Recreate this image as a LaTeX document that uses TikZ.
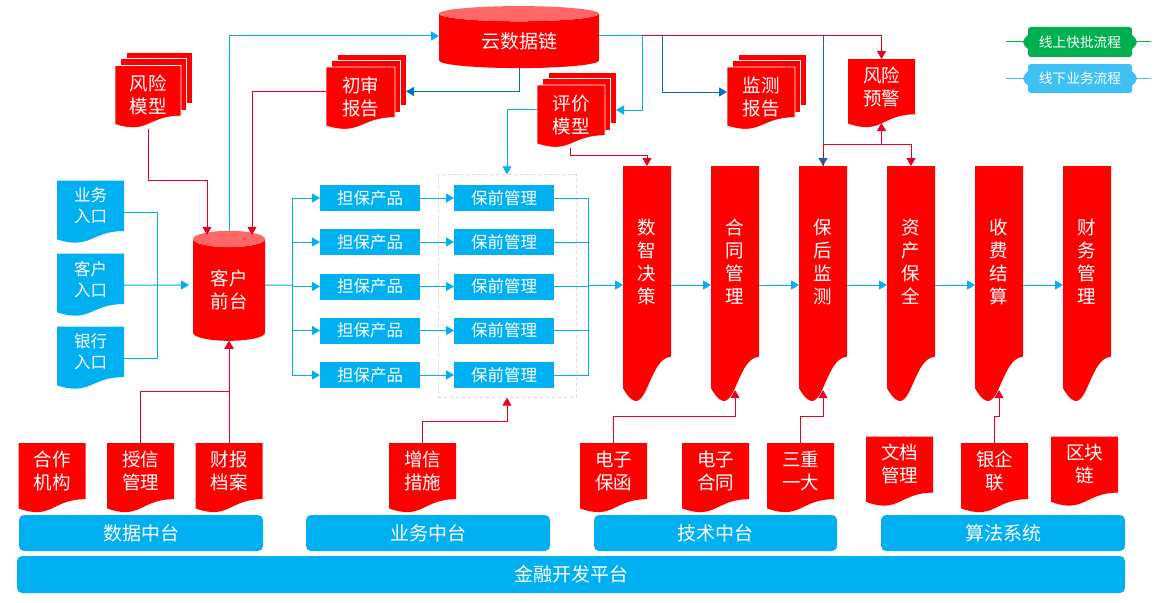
\documentclass[tikz,border=0pt]{standalone}
\usepackage{fontspec}
\setmainfont{Noto Sans CJK SC}
\usepackage{tikz}
\usetikzlibrary{arrows.meta,shapes.geometric}

\definecolor{docred}{HTML}{FF0000}
\definecolor{endred}{HTML}{FF6666}
\definecolor{linered}{HTML}{E60026}
\definecolor{skyblue}{HTML}{00B0F0}
\definecolor{deepblue}{HTML}{0070C0}
\definecolor{legendgreen}{HTML}{00B050}
\definecolor{legendblue}{HTML}{3FC1F5}

\newdimen\docl
\newdimen\docr
\newdimen\doct
\newdimen\docb
\newdimen\docm
\newdimen\doch

% sheet with a wavy lower edge
\pgfdeclareshape{docshape}{
    \inheritsavedanchors[from=rectangle]
    \inheritanchorborder[from=rectangle]
    \inheritanchor[from=rectangle]{center}
    \inheritanchor[from=rectangle]{text}
    \inheritanchor[from=rectangle]{north}
    \inheritanchor[from=rectangle]{south}
    \inheritanchor[from=rectangle]{east}
    \inheritanchor[from=rectangle]{west}
    \backgroundpath{
        \pgfextractx{\docl}{\southwest}\pgfextracty{\docb}{\southwest}
        \pgfextractx{\docr}{\northeast}\pgfextracty{\doct}{\northeast}
        \docm=.5\docl \advance\docm by .5\docr
        \doch=\doct \advance\doch by -\docb
        \pgfpathmoveto{\pgfqpoint{\docl}{\doct}}
        \pgfpathlineto{\pgfqpoint{\docr}{\doct}}
        \pgfpathlineto{\pgfpoint{\docr}{\doct-.802\doch}}
        \pgfpathcurveto{\pgfpoint{\docm}{\doct-.802\doch}}{\pgfpoint{\docm}{\doct-1.1075\doch}}{\pgfpoint{\docl}{\doct-.934\doch}}
        \pgfpathclose
    }
}

% the same sheet with two sheets behind it
\pgfdeclareshape{stackshape}{
    \inheritsavedanchors[from=rectangle]
    \inheritanchorborder[from=rectangle]
    \inheritanchor[from=rectangle]{center}
    \inheritanchor[from=rectangle]{text}
    \inheritanchor[from=rectangle]{north}
    \inheritanchor[from=rectangle]{south}
    \inheritanchor[from=rectangle]{east}
    \inheritanchor[from=rectangle]{west}
    \inheritbackgroundpath[from=docshape]
    \behindbackgroundpath{
        \pgfextractx{\docl}{\southwest}\pgfextracty{\docb}{\southwest}
        \pgfextractx{\docr}{\northeast}\pgfextracty{\doct}{\northeast}
        \pgfscope
        \pgfsetfillcolor{docred}
        \pgfsetstrokecolor{white}
        \pgfsetlinewidth{0.6pt}
        \pgfpathrectanglecorners{\pgfpoint{\docl+11pt}{\docb+25pt}}{\pgfpoint{\docr+11pt}{\doct+13pt}}
        \pgfusepath{fill,stroke}
        \pgfpathrectanglecorners{\pgfpoint{\docl+5.5pt}{\docb+18pt}}{\pgfpoint{\docr+5.5pt}{\doct+7pt}}
        \pgfusepath{fill,stroke}
        \endpgfscope
    }
}

% legend plate with small bulges on both sides
\pgfdeclareshape{tagshape}{
    \inheritsavedanchors[from=rectangle]
    \inheritanchorborder[from=rectangle]
    \inheritanchor[from=rectangle]{center}
    \inheritanchor[from=rectangle]{text}
    \inheritanchor[from=rectangle]{east}
    \inheritanchor[from=rectangle]{west}
    \backgroundpath{
        \pgfextractx{\docl}{\southwest}\pgfextracty{\docb}{\southwest}
        \pgfextractx{\docr}{\northeast}\pgfextracty{\doct}{\northeast}
        \docm=.5\docb \advance\docm by .5\doct
        \pgfpathmoveto{\pgfpoint{\docl+8pt}{\doct}}
        \pgfpathlineto{\pgfpoint{\docr-8pt}{\doct}}
        \pgfpathcurveto{\pgfpoint{\docr-6pt}{\doct}}{\pgfpoint{\docr-5pt}{\doct-1pt}}{\pgfpoint{\docr-5pt}{\doct-3pt}}
        \pgfpathlineto{\pgfpoint{\docr-5pt}{\docm+7pt}}
        \pgfpathcurveto{\pgfpoint{\docr-3pt}{\docm+5pt}}{\pgfpoint{\docr}{\docm+3pt}}{\pgfpoint{\docr}{\docm}}
        \pgfpathcurveto{\pgfpoint{\docr}{\docm-3pt}}{\pgfpoint{\docr-3pt}{\docm-5pt}}{\pgfpoint{\docr-5pt}{\docm-7pt}}
        \pgfpathlineto{\pgfpoint{\docr-5pt}{\docb+3pt}}
        \pgfpathcurveto{\pgfpoint{\docr-5pt}{\docb+1pt}}{\pgfpoint{\docr-6pt}{\docb}}{\pgfpoint{\docr-8pt}{\docb}}
        \pgfpathlineto{\pgfpoint{\docl+8pt}{\docb}}
        \pgfpathcurveto{\pgfpoint{\docl+6pt}{\docb}}{\pgfpoint{\docl+5pt}{\docb+1pt}}{\pgfpoint{\docl+5pt}{\docb+3pt}}
        \pgfpathlineto{\pgfpoint{\docl+5pt}{\docm-7pt}}
        \pgfpathcurveto{\pgfpoint{\docl+3pt}{\docm-5pt}}{\pgfpoint{\docl}{\docm-3pt}}{\pgfpoint{\docl}{\docm}}
        \pgfpathcurveto{\pgfpoint{\docl}{\docm+3pt}}{\pgfpoint{\docl+3pt}{\docm+5pt}}{\pgfpoint{\docl+5pt}{\docm+7pt}}
        \pgfpathlineto{\pgfpoint{\docl+5pt}{\doct-3pt}}
        \pgfpathcurveto{\pgfpoint{\docl+5pt}{\doct-1pt}}{\pgfpoint{\docl+6pt}{\doct}}{\pgfpoint{\docl+8pt}{\doct}}
        \pgfpathclose
    }
}

\newcommand{\bigtext}{\fontsize{18.5}{23}\selectfont}
\newcommand{\bartext}{\fontsize{19}{23}\selectfont}
\newcommand{\midtext}{\fontsize{16.5}{21}\selectfont}

\tikzset{
    base/.style={inner sep=0pt,outer sep=0pt,text=white,align=center},
    reddoc/.style={base,shape=docshape,fill=docred,font=\bigtext,minimum width=67pt,minimum height=70pt,text depth=16pt},
    bluedoc/.style={reddoc,fill=skyblue,font=\midtext,minimum height=63pt,text depth=13pt},
    tallblock/.style={reddoc,minimum width=48pt,minimum height=238pt,text depth=48pt},
    redstack/.style={base,shape=stackshape,fill=docred,draw=white,line width=0.6pt,font=\bigtext,minimum height=63pt,text depth=5pt},
    bluebox/.style={base,rectangle,fill=skyblue,font=\midtext,minimum width=100pt,minimum height=26pt},
    bluebar/.style={base,rectangle,fill=skyblue,rounded corners=5pt,font=\bartext,minimum height=36pt},
    redcyl/.style={base,shape=cylinder,shape border rotate=90,cylinder uses custom fill,cylinder body fill=docred,cylinder end fill=endred,font=\bigtext},
    legendtag/.style={base,shape=tagshape,font=\fontsize{13.7}{16}\selectfont,minimum width=114pt},
    blueline/.style={draw=skyblue,line width=1pt,-{Triangle[length=8pt,width=9pt]}},
    deepline/.style={draw=deepblue,line width=1pt,-{Triangle[length=8pt,width=9pt]}},
    redline/.style={draw=linered,line width=1pt,-{Triangle[length=8pt,width=9pt]}},
}

\begin{document}
\begin{tikzpicture}[x=1pt,y=-1pt]
    \useasboundingbox (0,0) rectangle (1155,602);

    % upper row
    \node[redcyl,aspect=0.2,minimum width=160pt,minimum height=62pt,font=\bartext] (chain) at (519,41) {云数据链};
    \node[redstack,minimum width=66pt] (risk) at (148,97) {风险\\模型};
    \node[redstack,minimum width=69pt] (audit) at (360.5,98.5) {初审\\报告};
    \node[redstack,minimum width=68pt] (eval) at (571,116.5) {评价\\模型};
    \node[redstack,minimum width=68pt] (monitor) at (761,98.5) {监测\\报告};
    \node[reddoc,minimum height=69pt,text depth=14pt] (warn) at (881.5,93.5) {风险\\预警};

    % legend
    \node[legendtag,fill=legendgreen,minimum height=30pt] (online) at (1080,42) {线上快批流程};
    \node[legendtag,fill=legendblue,minimum height=29pt] (offline) at (1080,78.5) {线下业务流程};
    \coordinate (online1) at (1006,42);
    \coordinate (online2) at (1151,42);
    \coordinate (offline1) at (1006,78.5);
    \coordinate (offline2) at (1151,78.5);

    % entries and front desk
    \node[bluedoc] (biz) at (90.5,212) {业务\\入口};
    \node[bluedoc] (cust) at (90.5,285) {客户\\入口};
    \node[bluedoc] (bank) at (90.5,358) {银行\\入口};
    \node[redcyl,aspect=0.44,minimum width=72pt,minimum height=110pt] (client) at (229,290) {客户\\前台};

    % products and pre-loan management
    \node[draw=black!15,dashed,minimum width=138pt,minimum height=223pt] (prebox) at (507,286) {};
    \node[bluebox] (p1) at (370,198) {担保产品};
    \node[bluebox] (p2) at (370,242) {担保产品};
    \node[bluebox] (p3) at (370,286.5) {担保产品};
    \node[bluebox] (p4) at (370,330.5) {担保产品};
    \node[bluebox] (p5) at (370,375) {担保产品};
    \node[bluebox] (m1) at (504,198) {保前管理};
    \node[bluebox] (m2) at (504,242) {保前管理};
    \node[bluebox] (m3) at (504,286.5) {保前管理};
    \node[bluebox] (m4) at (504,330.5) {保前管理};
    \node[bluebox] (m5) at (504,375) {保前管理};

    % tall blocks
    \node[tallblock] (b1) at (647,285) {数\\智\\决\\策};
    \node[tallblock] (b2) at (735,285) {合\\同\\管\\理};
    \node[tallblock] (b3) at (823,285) {保\\后\\监\\测};
    \node[tallblock] (b4) at (911,285) {资\\产\\保\\全};
    \node[tallblock] (b5) at (999,285) {收\\费\\结\\算};
    \node[tallblock] (b6) at (1087,285) {财\\务\\管\\理};

    % lower row
    \node[reddoc] (partner) at (52,478) {合作\\机构};
    \node[reddoc] (credit) at (140.5,478) {授信\\管理};
    \node[reddoc] (archive) at (229,478) {财报\\档案};
    \node[reddoc] (enhance) at (422.5,478) {增信\\措施};
    \node[reddoc] (ebond) at (613.5,478) {电子\\保函};
    \node[reddoc] (econtract) at (715.5,478) {电子\\合同};
    \node[reddoc] (triple) at (800.5,478) {三重\\一大};
    \node[reddoc] (files) at (899.5,471.5) {文档\\管理};
    \node[reddoc] (bankco) at (994.5,478) {银企\\联};
    \node[reddoc] (ledger) at (1084.5,471.5) {区块\\链};

    % platform bars
    \node[bluebar,minimum width=244pt] (data) at (141,533) {数据中台};
    \node[bluebar,minimum width=244pt] (business) at (428,533) {业务中台};
    \node[bluebar,minimum width=243pt] (tech) at (715.5,533) {技术中台};
    \node[bluebar,minimum width=244pt] (algo) at (1003,533) {算法系统};
    \node[bluebar,minimum width=1108pt,minimum height=37pt] (platform) at (571,574.5) {金融开发平台};

    % forks and joins
    \coordinate (join) at (157,285);
    \coordinate (split) at (292,285);
    \coordinate (merge) at (588,285);
    \coordinate (fork1) at (642,36);
    \coordinate (fork2) at (662.5,36);
    \coordinate (fork3) at (823,36);
    \coordinate (fork4) at (881.5,144);

    % legend lines
    \draw[legendgreen,line width=1pt] (online1) -- (online.west);
    \draw[legendgreen,line width=1pt] (online.east) -- (online2);
    \draw[legendblue,line width=1pt] (offline1) -- (offline.west);
    \draw[legendblue,line width=1pt] (offline.east) -- (offline2);

    % blue connectors
    \draw[skyblue,line width=1pt] (biz.east) -| (join);
    \draw[skyblue,line width=1pt] (bank.east) -| (join);
    \path[blueline] (cust.east) -- ([xshift=-4pt,yshift=5pt]client.west);
    \draw[skyblue,line width=1pt] ([yshift=5pt]client.east) -- (split);
    \path[blueline] (split) |- (p1.west);
    \path[blueline] (split) |- (p2.west);
    \path[blueline] (split) |- (p3.west);
    \path[blueline] (split) |- (p4.west);
    \path[blueline] (split) |- (p5.west);
    \path[blueline] (p1.east) -- (m1.west);
    \path[blueline] (p2.east) -- (m2.west);
    \path[blueline] (p3.east) -- (m3.west);
    \path[blueline] (p4.east) -- (m4.west);
    \path[blueline] (p5.east) -- (m5.west);
    \draw[skyblue,line width=1pt] (m1.east) -| (merge);
    \draw[skyblue,line width=1pt] (m2.east) -| (merge);
    \draw[skyblue,line width=1pt] (m3.east) -| (merge);
    \draw[skyblue,line width=1pt] (m4.east) -| (merge);
    \draw[skyblue,line width=1pt] (m5.east) -| (merge);
    \path[blueline] (merge) -- (b1.west);
    \path[blueline] (b1.east) -- (b2.west);
    \path[blueline] (b2.east) -- (b3.west);
    \path[blueline] (b3.east) -- (b4.west);
    \path[blueline] (b4.east) -- (b5.west);
    \path[blueline] (b5.east) -- (b6.west);
    \path[blueline] (client.north) |- ([yshift=5pt]chain.west);
    \draw[skyblue,line width=1pt] ([yshift=5pt]chain.east) -- (fork1);
    \path[blueline] (fork1) |- ([xshift=11pt,yshift=6.5pt]eval.east);
    \path[blueline] ([yshift=7.5pt]eval.west) -| (prebox.north);
    \path[deepline] (chain.south) |- ([xshift=11pt,yshift=7pt]audit.east);
    \path[deepline] (fork2) |- ([yshift=6.5pt]monitor.west);
    \path[deepline] (fork3) -- (b3.north);

    % red connectors
    \path[redline] (fork1) -| (warn.north);
    \path[redline] (risk.south) -- ++(0,52) -| ([xshift=-22pt,yshift=-4pt]client.north);
    \path[redline] ([yshift=7pt]audit.west) -| ([xshift=23pt,yshift=-4pt]client.north);
    \path[redline] ([xshift=-1pt]eval.south) -- ++(0,7) -| (b1.north);
    \path[redline] (b3.north) -- ++(0,-22) -| ([yshift=5pt]warn.south);
    \path[redline] (fork4) -| (b4.north);
    \path[redline] (credit.north) -- ++(0,-52) -| (client.south);
    \path[redline] (archive.north) -- (client.south);
    \path[redline] (enhance.north) -- ++(0,-22) -| (prebox.south);
    \path[redline] (ebond.north) -- ++(0,-27) -| ([yshift=14pt]b2.south);
    \path[redline] (triple.north) -- ++(0,-27) -| ([yshift=14pt]b3.south);
    \path[redline] (bankco.north) -- ++(0,-27) -| ([yshift=14pt]b5.south);
\end{tikzpicture}
\end{document}
